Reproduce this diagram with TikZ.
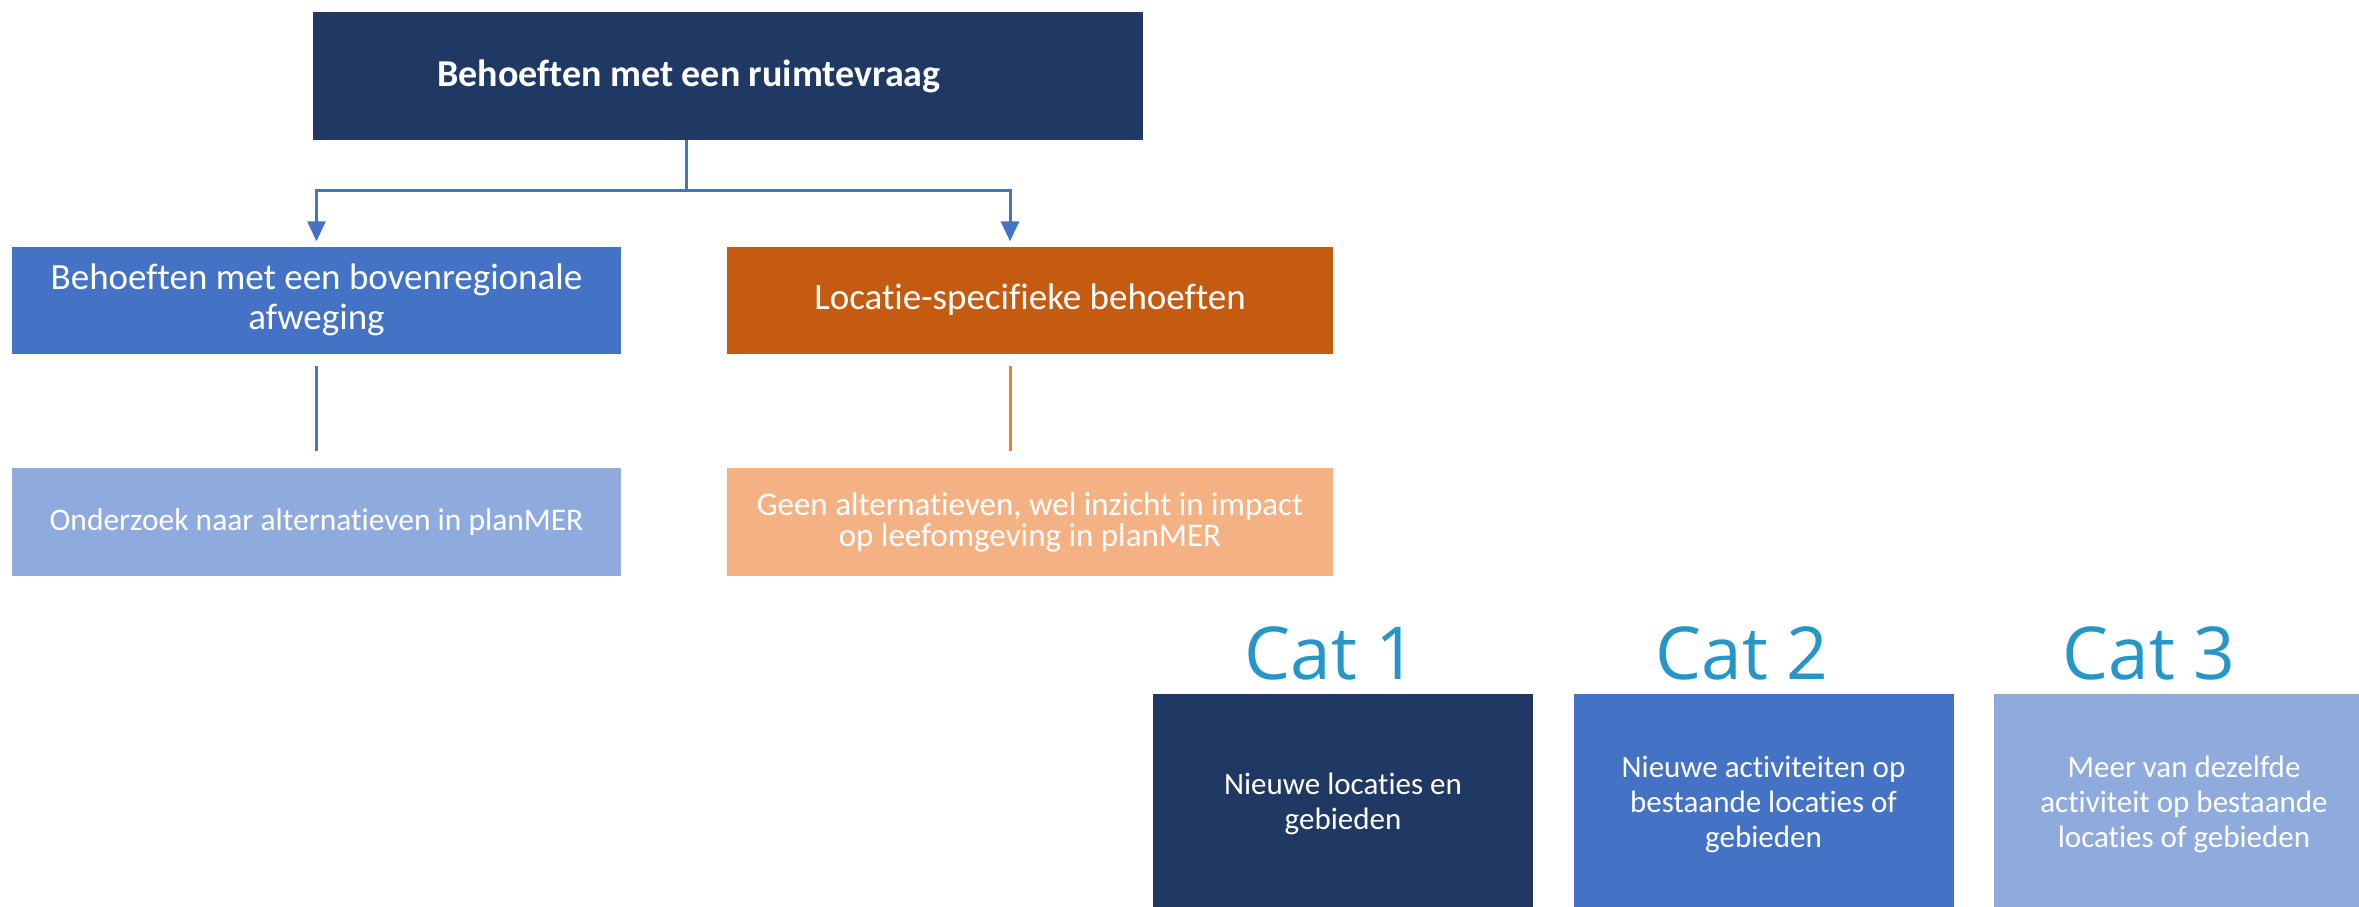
\documentclass[tikz,border=0pt]{standalone}
\usepackage{fontspec}
\setmainfont{Carlito}[Ligatures={NoCommon,NoContextual}]
\newfontfamily\catfont{Open Sans}
\usetikzlibrary{arrows.meta}
\definecolor{navy}{HTML}{203864}
\definecolor{midblue}{HTML}{4472C4}
\definecolor{lightblue}{HTML}{8FAADC}
\definecolor{rust}{HTML}{C55A11}
\definecolor{peach}{HTML}{F4B183}
\definecolor{orangeline}{HTML}{ED7D31}
\definecolor{catcol}{RGB}{38,150,200}
\begin{document}
\begin{tikzpicture}[x=1pt,y=-1pt,
  box/.style={rectangle, inner sep=0pt, text=white, align=center, anchor=center},
  txt/.style={inner sep=0pt, text=white, align=center, anchor=center},
  midtext/.style={font=\fontsize{37}{40}\selectfont},
  bottext/.style={font=\fontsize{31.5}{31}\selectfont},
  cattext/.style={font=\fontsize{31}{35}\selectfont},
  catlabel/.style={text=catcol, inner sep=0pt, anchor=base, font=\catfont\fontsize{73}{85}\selectfont},
  conn/.style={draw=midblue, line width=3pt, -{Triangle[width=18pt,length=20pt]}},
  plainline/.style={line width=3pt}
]
\useasboundingbox (0,0) rectangle (2359,906);
\fill[white] (0,0) rectangle (2359,906);

\node[box, fill=navy, minimum width=830pt, minimum height=128pt] (top) at (728,76) {};
\node[txt, font=\fontsize{38}{42}\selectfont\bfseries] (toptext) at (689,76) {Behoeften met een ruimtevraag};

\node[box, fill=midblue, minimum width=609pt, minimum height=107pt, midtext] (midL) at (316.5,300)
  {Behoeften met een bovenregionale\\afweging};
\node[box, fill=rust, minimum width=606pt, minimum height=107pt, midtext] (midR) at (1030,300)
  {Locatie-specifieke behoeften};

\node[box, fill=lightblue, minimum width=609pt, minimum height=108pt, bottext] (botL) at (316.5,522)
  {Onderzoek naar alternatieven in planMER};
\node[box, fill=peach, minimum width=606pt, minimum height=108pt, font=\fontsize{33}{31}\selectfont] (botR) at (1030,522)
  {Geen alternatieven, wel inzicht in impact\\op leefomgeving in planMER};

\coordinate (split) at (686,190);
\draw[conn, shorten >=5pt] (split |- top.south) -- (split) -| (midL.north);
\draw[conn, shorten >=5pt] (split) -| ([xshift=-20pt]midR.north);

\draw[plainline, draw=midblue] ([yshift=-12pt]midL.south) -- ([yshift=17pt]botL.north);
\draw[plainline, draw=orangeline] ([xshift=-20pt,yshift=-12pt]midR.south) -- ([xshift=-20pt,yshift=17pt]botR.north);

\node[catlabel] (c1) at (1331,679) {Cat 1};
\node[catlabel] (c2) at (1742,679) {Cat 2};
\node[catlabel] (c3) at (2149,679) {Cat 3};

\node[box, fill=navy, minimum width=380pt, minimum height=220pt, cattext] (k1) at (1343,804)
  {Nieuwe locaties en\\gebieden};
\node[box, fill=midblue, minimum width=380pt, minimum height=220pt, cattext] (k2) at (1763.5,804)
  {Nieuwe activiteiten op\\bestaande locaties of\\gebieden};
\node[box, fill=lightblue, minimum width=380pt, minimum height=220pt, cattext] (k3) at (2184,804)
  {Meer van dezelfde\\activiteit op bestaande\\locaties of gebieden};
\end{tikzpicture}
\end{document}
